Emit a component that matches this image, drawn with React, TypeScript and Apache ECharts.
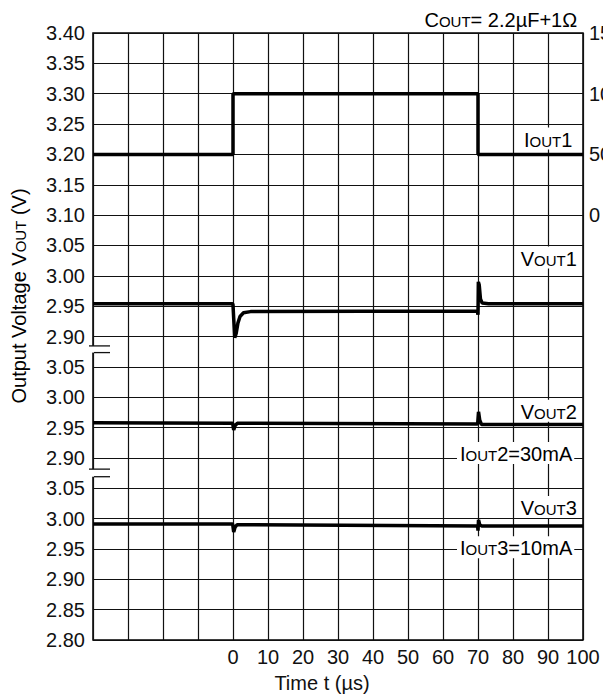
import React, { useEffect, useRef } from 'react';
import * as echarts from 'echarts';

// ---- axes ----
const X_MIN = -40;
const X_MAX = 100;
const X_STEP = 10;
// left tick labels, top to bottom (axis is broken twice)
const Y_TICK_LABELS = [
  '3.40', '3.35', '3.30', '3.25', '3.20', '3.15', '3.10', '3.05', '3.00', '2.95', '2.90',
  '3.05', '3.00', '2.95', '2.90',
  '3.05', '3.00', '2.95', '2.90', '2.85', '2.80',
];
// each broken segment: voltage at its top row, and that row's index (from top)
const SEG_TOP_V = [3.4, 3.05, 3.05];
const SEG_TOP_ROW = [0, 11, 15];
const ROW_STEP_V = 0.05;
// right axis (output current, mA)
const I_MIN = -350;
const I_MAX = 150;
const I_STEP = 25;
const I_LABELS = [150, 100, 50, 0];

// ---- series (time in µs, voltage in V, current in mA) ----
const vout1T = [-40, -0.1, 0, 0.2, 0.5, 0.9, 1.4, 2.0, 3.0, 5, 69.8, 70.0, 70.1, 70.35, 70.7, 71.2, 73, 100];
const vout1V = [2.954, 2.954, 2.952, 2.93, 2.898, 2.905, 2.922, 2.933, 2.939, 2.941, 2.942, 2.936, 2.99, 2.985, 2.962, 2.955, 2.954, 2.954];

const vout2T = [-40, -0.1, 0, 0.2, 0.6, 1.2, 69.9, 70.0, 70.15, 70.5, 71, 100];
const vout2V = [2.958, 2.957, 2.957, 2.946, 2.953, 2.957, 2.956, 2.957, 2.976, 2.962, 2.955, 2.955];

const vout3T = [-40, -0.1, 0, 0.2, 0.6, 1.2, 69.9, 70.0, 70.15, 70.5, 71, 100];
const vout3V = [2.991, 2.991, 2.99, 2.978, 2.986, 2.99, 2.988, 2.98, 2.998, 2.99, 2.988, 2.988];

const iout1T = [-40, 0, 0, 70, 70, 100];
const iout1V = [50, 50, 100, 100, 50, 50];

const FONT = 'Liberation Sans, Arial, Helvetica, sans-serif';
const ROWS = Y_TICK_LABELS.length - 1;

function pos(seg: number, v: number) {
  const row = SEG_TOP_ROW[seg] + (SEG_TOP_V[seg] - v) / ROW_STEP_V;
  return ROWS - row;
}

function zipSeg(ts: number[], vs: number[], seg: number) {
  return ts.map((t, i) => [t, pos(seg, vs[i])]);
}

const RICH = {
  n: { fontSize: 20, fontFamily: FONT, color: '#111', verticalAlign: 'bottom', lineHeight: 22 },
  s: { fontSize: 15, fontFamily: FONT, color: '#111', verticalAlign: 'bottom', lineHeight: 22, padding: [0, 0, 1, 0] },
};

export default function App() {
  const ref = useRef<HTMLDivElement>(null);

  useEffect(() => {
    const el = ref.current;
    if (!el) return;
    const chart = echarts.init(el, null, { renderer: 'svg' });
    const lineStyle = { color: '#000', width: 3.5 };
    const option: any = {
      animation: false,
      backgroundColor: '#fff',
      grid: {
        left: 93,
        right: 20,
        top: 33,
        bottom: 58,
        containLabel: false,
        outerBoundsMode: 'none',
        show: true,
        borderColor: '#000',
        borderWidth: 1.5,
        backgroundColor: 'transparent',
      },
      xAxis: {
        type: 'value',
        min: X_MIN,
        max: X_MAX,
        interval: X_STEP,
        axisLine: { show: false },
        axisTick: { show: false },
        splitLine: { show: true, lineStyle: { color: '#111', width: 1.2 } },
        axisLabel: {
          fontSize: 20,
          fontFamily: FONT,
          color: '#111',
          margin: 7,
          hideOverlap: false,
          formatter: (v: number) => (v >= 0 ? String(v) : ''),
        },
      },
      yAxis: [
        {
          type: 'value',
          min: 0,
          max: ROWS,
          interval: 1,
          axisLine: { show: false },
          axisTick: { show: false },
          splitLine: { show: true, lineStyle: { color: '#111', width: 1.2 } },
          axisLabel: {
            fontSize: 20,
            fontFamily: FONT,
            color: '#111',
            margin: 8,
            formatter: (v: number) => Y_TICK_LABELS[ROWS - Math.round(v)] ?? '',
          },
        },
        {
          type: 'value',
          position: 'right',
          min: I_MIN,
          max: I_MAX,
          interval: I_STEP,
          axisLine: { show: false },
          axisTick: { show: false },
          splitLine: { show: false },
          axisLabel: {
            fontSize: 20,
            fontFamily: FONT,
            color: '#111',
            margin: 6,
            formatter: (v: number) => (I_LABELS.indexOf(v) >= 0 ? String(v) : ''),
          },
        },
      ],
      series: [
        { type: 'line', name: 'IOUT1', yAxisIndex: 1, data: iout1T.map((t, i) => [t, iout1V[i]]), showSymbol: false, symbol: 'none', lineStyle },
        { type: 'line', name: 'VOUT1', data: zipSeg(vout1T, vout1V, 0), showSymbol: false, symbol: 'none', lineStyle },
        { type: 'line', name: 'VOUT2', data: zipSeg(vout2T, vout2V, 1), showSymbol: false, symbol: 'none', lineStyle },
        { type: 'line', name: 'VOUT3', data: zipSeg(vout3T, vout3V, 2), showSymbol: false, symbol: 'none', lineStyle },
      ],
    };
    chart.setOption(option);

    const px = (t: number, rowFromTop: number) =>
      chart.convertToPixel({ xAxisIndex: 0, yAxisIndex: 0 }, [t, ROWS - rowFromTop]) as number[];

    const label = (text: string, t: number, row: number, bg = true) => {
      const p = px(t, row);
      return {
        type: 'text',
        x: p[0],
        y: p[1],
        z: 100,
        style: {
          text,
          rich: RICH,
          align: 'right',
          verticalAlign: 'middle',
          backgroundColor: bg ? '#fff' : 'transparent',
          padding: [0, 2, 0, 3],
        },
      };
    };

    const breakMarks = (r1: number, r2: number) => {
      const a = px(X_MIN, r1);
      const b = px(X_MIN, r2);
      return [
        { type: 'rect', z: 90, shape: { x: a[0] - 3, y: a[1], width: 6, height: b[1] - a[1] }, style: { fill: '#fff' } },
        { type: 'line', z: 95, shape: { x1: a[0] - 4, y1: a[1], x2: a[0] + 17, y2: a[1] }, style: { stroke: '#111', lineWidth: 1.3 } },
        { type: 'line', z: 95, shape: { x1: b[0] + 1, y1: b[1], x2: b[0] + 17, y2: b[1] }, style: { stroke: '#111', lineWidth: 1.3 } },
      ];
    };

    const graphic: any[] = [
      ...breakMarks(10.31, 10.53),
      ...breakMarks(14.37, 14.62),
      label('{n|C}{s|OUT}{n|= 2.2µF+1Ω}', 98.9, -0.47, false),
      label('{n|I}{s|OUT}{n|1}', 97.5, 3.48),
      label('{n|V}{s|OUT}{n|1}', 98.8, 7.4),
      label('{n|V}{s|OUT}{n|2}', 98.8, 12.45),
      label('{n|I}{s|OUT}{n|2=30mA}', 97.5, 13.84),
      label('{n|V}{s|OUT}{n|3}', 98.8, 15.62),
      label('{n|I}{s|OUT}{n|3=10mA}', 97.5, 16.94),
      {
        type: 'text',
        x: 322,
        y: 683,
        z: 100,
        style: { text: 'Time t (µs)', font: `20px ${FONT}`, fill: '#111', align: 'center', verticalAlign: 'middle' },
      },
      {
        type: 'text',
        x: 18,
        y: 296,
        z: 100,
        rotation: Math.PI / 2,
        style: {
          text: '{n|Output Voltage V}{s|OUT}{n| (V)}',
          rich: RICH,
          align: 'center',
          verticalAlign: 'middle',
        },
      },
    ];
    chart.setOption({ graphic });

    return () => chart.dispose();
  }, []);

  return <div ref={ref} style={{ position: 'absolute', left: 0, top: 0, width: 603, height: 698 }} />;
}
